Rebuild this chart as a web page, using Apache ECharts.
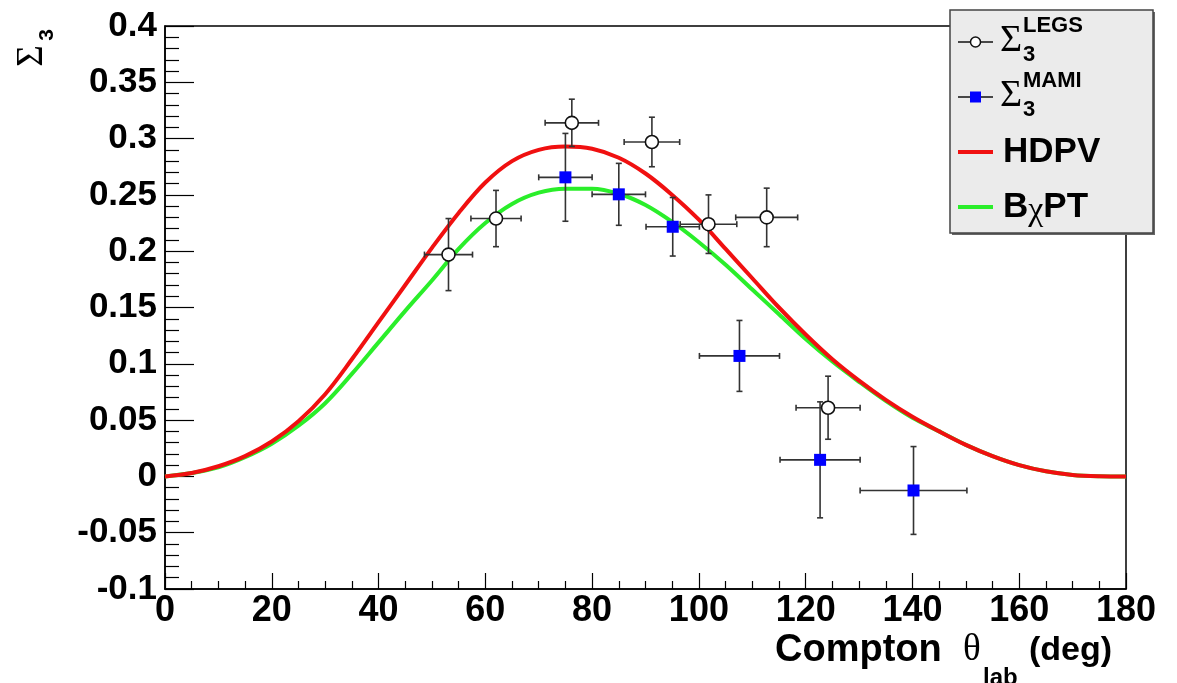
<!DOCTYPE html>
<html>
<head>
<meta charset="utf-8">
<script src="https://cdn.jsdelivr.net/npm/echarts@6/dist/echarts.min.js"></script>
<style>
html,body{margin:0;padding:0;background:#fff;}
#chart{width:1177px;height:683px;}
</style>
</head>
<body>
<div id="chart"></div>
<script>
// ---- data ----
const curveAngles = [0,5,10,15,20,25,30,35,40,45,50,55,60,65,70,75,80,85,90,95,100,105,110,115,120,125,130,135,140,145,150,155,160,165,170,175,180];
const hdpv = [0,0.003,0.009,0.018,0.031,0.049,0.073,0.104,0.137,0.170,0.203,0.234,0.261,0.280,0.290,0.293,0.291,0.283,0.269,0.250,0.228,0.202,0.176,0.150,0.126,0.104,0.085,0.068,0.053,0.040,0.028,0.018,0.010,0.0045,0.0013,0.0002,0];
const bchpt = [0,0.003,0.008,0.017,0.029,0.045,0.065,0.091,0.119,0.147,0.174,0.202,0.225,0.242,0.252,0.2555,0.2555,0.251,0.241,0.226,0.208,0.188,0.166,0.144,0.122,0.102,0.084,0.067,0.052,0.040,0.028,0.018,0.010,0.0045,0.0013,0.0002,0];

const legsAngle = [53.1, 62.0, 76.2, 91.2, 101.8, 112.7, 124.2];
const legsValue = [0.197, 0.229, 0.314, 0.297, 0.224, 0.230, 0.061];
const legsAngleErr = [4.5, 4.7, 5.0, 5.2, 5.3, 5.8, 6.0];
const legsValueErr = [0.032, 0.025, 0.021, 0.022, 0.026, 0.026, 0.028];

const mamiAngle = [75.0, 85.0, 95.1, 107.6, 122.7, 140.2];
const mamiValue = [0.2656, 0.2505, 0.2217, 0.107, 0.0147, -0.0125];
const mamiAngleErr = [5.0, 5.0, 5.0, 7.5, 7.5, 10.0];
const mamiValueErr = [0.039, 0.0275, 0.026, 0.0315, 0.0515, 0.039];

const xTicks = {min: 0, max: 180, interval: 20};
const yTicks = {min: -0.1, max: 0.4, interval: 0.05};

// ---- build ----
const FONT = 'Liberation Sans';
const zip = (a, b) => a.map((v, i) => [v, b[i]]);
const errData = (x, y, xe, ye) => x.map((v, i) => [v, y[i], xe[i], ye[i]]);

function errRender(params, api) {
  const x = api.value(0), y = api.value(1), xe = api.value(2), ye = api.value(3);
  const l = api.coord([x - xe, y]), r = api.coord([x + xe, y]);
  const t = api.coord([x, y + ye]), b = api.coord([x, y - ye]);
  const c = 3;
  const st = {stroke: '#333', lineWidth: 1.6};
  const ln = (x1, y1, x2, y2) => ({type: 'line', shape: {x1, y1, x2, y2}, style: st});
  return {type: 'group', children: [
    ln(l[0], l[1], r[0], r[1]),
    ln(t[0], t[1], b[0], b[1]),
    ln(l[0], l[1] - c, l[0], l[1] + c),
    ln(r[0], r[1] - c, r[0], r[1] + c),
    ln(t[0] - c, t[1], t[0] + c, t[1]),
    ln(b[0] - c, b[1], b[0] + c, b[1])
  ]};
}

const chart = echarts.init(document.getElementById('chart'), null, {renderer: 'canvas'});

const lx = 958, lx2 = 993;
const rows = [42, 97, 152, 207];
const RED = '#f01010', GREEN = '#2aee2a';

const option = {
  backgroundColor: '#fff',
  animation: false,
  grid: {left: 165, right: 51, top: 26, bottom: 94, show: true, borderColor: '#000', borderWidth: 1.5, backgroundColor: 'transparent'},
  xAxis: {
    type: 'value', min: xTicks.min, max: xTicks.max, interval: xTicks.interval,
    axisLine: {onZero: false, lineStyle: {color: '#000', width: 1.5}},
    axisTick: {inside: true, length: 16, lineStyle: {color: '#000', width: 1.2}},
    minorTick: {show: true, splitNumber: 4, length: 8, lineStyle: {color: '#000', width: 1.2}},
    splitLine: {show: false},
    axisLabel: {color: '#000', fontFamily: FONT, fontWeight: 'bold', fontSize: 36, margin: 4, showMinLabel: true, showMaxLabel: true}
  },
  yAxis: {
    type: 'value', min: yTicks.min, max: yTicks.max, interval: yTicks.interval,
    axisLine: {onZero: false, lineStyle: {color: '#000', width: 1.5}},
    axisTick: {inside: true, length: 29, lineStyle: {color: '#000', width: 1.2}},
    minorTick: {show: true, splitNumber: 5, length: 14, lineStyle: {color: '#000', width: 1.2}},
    splitLine: {show: false},
    axisLabel: {color: '#000', fontFamily: FONT, fontWeight: 'bold', fontSize: 35, margin: 8,
      formatter: v => String(parseFloat(v.toFixed(3))), showMinLabel: true, showMaxLabel: true}
  },
  series: [
    {name: 'BχPT', type: 'line', data: zip(curveAngles, bchpt), smooth: 0.35, showSymbol: false,
      lineStyle: {color: GREEN, width: 4}, z: 2},
    {name: 'HDPV', type: 'line', data: zip(curveAngles, hdpv), smooth: 0.35, showSymbol: false,
      lineStyle: {color: RED, width: 4}, z: 3},
    {name: 'LEGS err', type: 'custom', renderItem: errRender, data: errData(legsAngle, legsValue, legsAngleErr, legsValueErr),
      encode: {x: 0, y: 1}, z: 4},
    {name: 'MAMI err', type: 'custom', renderItem: errRender, data: errData(mamiAngle, mamiValue, mamiAngleErr, mamiValueErr),
      encode: {x: 0, y: 1}, z: 4},
    {name: 'LEGS', type: 'scatter', data: zip(legsAngle, legsValue), symbol: 'circle', symbolSize: 13,
      itemStyle: {color: '#fff', borderColor: '#111', borderWidth: 1.6, opacity: 1}, z: 5},
    {name: 'MAMI', type: 'scatter', data: zip(mamiAngle, mamiValue), symbol: 'rect', symbolSize: 12,
      itemStyle: {color: '#0000ff', opacity: 1}, z: 5}
  ],
  graphic: [
    // y-axis title
    {type: 'text', x: 32, y: 56, rotation: Math.PI / 2,
      style: {text: 'Σ', font: 'normal 37px "Liberation Serif"', fill: '#000', align: 'center', verticalAlign: 'middle'}},
    {type: 'text', x: 47, y: 35, rotation: Math.PI / 2,
      style: {text: '3', font: 'bold 21px "Liberation Sans"', fill: '#000', align: 'center', verticalAlign: 'middle'}},
    // x-axis title
    {type: 'text', x: 775, y: 651, style: {text: 'Compton', font: 'bold 38px "Liberation Sans"', fill: '#000', align: 'left', verticalAlign: 'middle'}},
    {type: 'text', x: 963, y: 650, style: {text: 'θ', font: 'normal 37px "Liberation Serif"', fill: '#000', align: 'left', verticalAlign: 'middle'}},
    {type: 'text', x: 983, y: 678, style: {text: 'lab', font: 'bold 24px "Liberation Sans"', fill: '#000', align: 'left', verticalAlign: 'middle'}},
    {type: 'text', x: 1112, y: 651, style: {text: '(deg)', font: 'bold 34px "Liberation Sans"', fill: '#000', align: 'right', verticalAlign: 'middle'}},
    // legend box
    {type: 'rect', shape: {x: 952, y: 12, width: 203, height: 223}, style: {fill: '#666'}, z: 10},
    {type: 'rect', shape: {x: 950, y: 10, width: 203, height: 223}, style: {fill: '#ebebeb', stroke: '#444', lineWidth: 1.5}, z: 11},
    // LEGS
    {type: 'line', shape: {x1: lx, y1: rows[0], x2: lx2, y2: rows[0]}, style: {stroke: '#111', lineWidth: 1.5}, z: 12},
    {type: 'circle', shape: {cx: (lx + lx2) / 2, cy: rows[0], r: 5}, style: {fill: '#fff', stroke: '#111', lineWidth: 1.5}, z: 13},
    {type: 'text', x: 1000, y: rows[0] - 1, style: {text: 'Σ', font: 'normal 38px "Liberation Serif"', fill: '#000', verticalAlign: 'middle'}, z: 13},
    {type: 'text', x: 1023, y: rows[0] - 16, style: {text: 'LEGS', font: 'bold 22px "Liberation Sans"', fill: '#000', verticalAlign: 'middle'}, z: 13},
    {type: 'text', x: 1023, y: rows[0] + 13, style: {text: '3', font: 'bold 22px "Liberation Sans"', fill: '#000', verticalAlign: 'middle'}, z: 13},
    // MAMI
    {type: 'line', shape: {x1: lx, y1: rows[1], x2: lx2, y2: rows[1]}, style: {stroke: '#111', lineWidth: 1.5}, z: 12},
    {type: 'rect', shape: {x: (lx + lx2) / 2 - 5.5, y: rows[1] - 5.5, width: 11, height: 11}, style: {fill: '#0000ff'}, z: 13},
    {type: 'text', x: 1000, y: rows[1] - 1, style: {text: 'Σ', font: 'normal 38px "Liberation Serif"', fill: '#000', verticalAlign: 'middle'}, z: 13},
    {type: 'text', x: 1023, y: rows[1] - 16, style: {text: 'MAMI', font: 'bold 22px "Liberation Sans"', fill: '#000', verticalAlign: 'middle'}, z: 13},
    {type: 'text', x: 1023, y: rows[1] + 13, style: {text: '3', font: 'bold 22px "Liberation Sans"', fill: '#000', verticalAlign: 'middle'}, z: 13},
    // HDPV
    {type: 'line', shape: {x1: lx, y1: rows[2], x2: lx2, y2: rows[2]}, style: {stroke: RED, lineWidth: 4}, z: 12},
    {type: 'text', x: 1003, y: rows[2], style: {text: 'HDPV', font: 'bold 35px "Liberation Sans"', fill: '#000', verticalAlign: 'middle'}, z: 13},
    // BchiPT
    {type: 'line', shape: {x1: lx, y1: rows[3], x2: lx2, y2: rows[3]}, style: {stroke: GREEN, lineWidth: 4}, z: 12},
    {type: 'text', x: 1003, y: rows[3], style: {text: '{b|B}{c|χ}{b|PT}', verticalAlign: 'middle',
      rich: {b: {font: 'bold 35px "Liberation Sans"', fill: '#000'}, c: {font: 'normal 34px "Liberation Serif"', fill: '#000', padding: [8, 0, 0, 0]}}}, z: 13}
  ]
};
chart.setOption(option);
</script>
</body>
</html>
